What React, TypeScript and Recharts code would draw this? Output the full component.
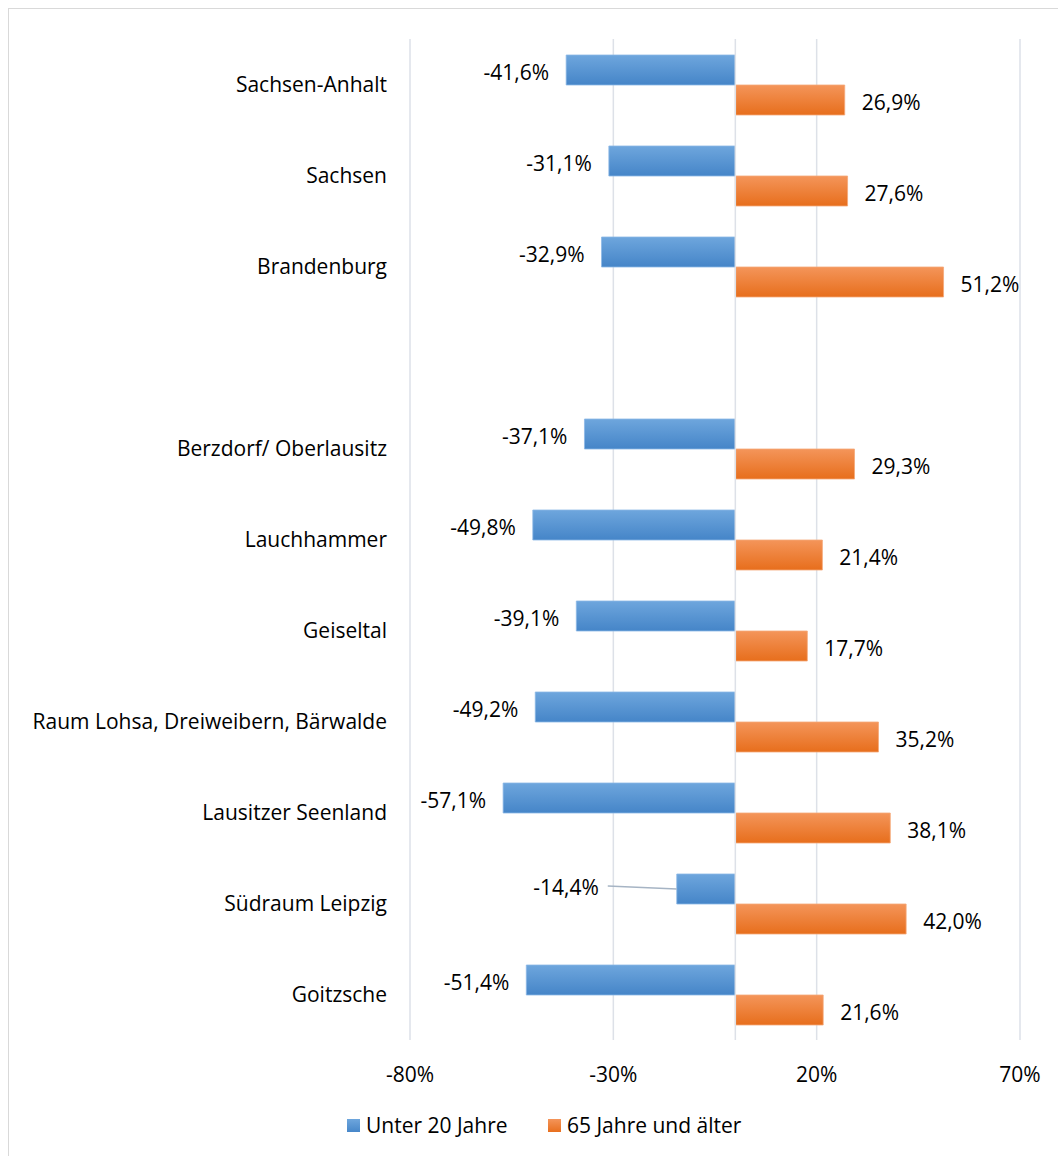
import React from "react";
import {
  BarChart,
  Bar,
  XAxis,
  YAxis,
  CartesianGrid,
  ReferenceLine,
  Legend,
} from "recharts";

const categories = [
  "Sachsen-Anhalt",
  "Sachsen",
  "Brandenburg",
  " ",
  "Berzdorf/ Oberlausitz",
  "Lauchhammer",
  "Geiseltal",
  "Raum Lohsa, Dreiweibern, Bärwalde",
  "Lausitzer Seenland",
  "Südraum Leipzig",
  "Goitzsche",
];

const under20: (number | null)[] = [-41.6, -31.1, -32.9, null, -37.1, -49.8, -39.1, -49.2, -57.1, -14.4, -51.4];
const over65: (number | null)[] = [26.9, 27.6, 51.2, null, 29.3, 21.4, 17.7, 35.2, 38.1, 42.0, 21.6];

const xTicks = [-80, -30, 20, 70];

const seriesNames = ["Unter 20 Jahre", "65 Jahre und älter"];

const data = categories.map((c, i) => ({
  name: c,
  under20: under20[i],
  over65: over65[i],
}));

const FONT = "'Open Sans', sans-serif";
const FS = 21;
const GRID = "#dde1e8";

const fmt = (v: number) => v.toFixed(1).replace(".", ",") + "%";

const makeLabel = (series: (number | null)[], moved: Record<string, number>) => (props: any) => {
  const { x, y, width, height, value } = props;
  if (value == null || x == null) return null;
  const left = Math.min(x, x + width);
  const right = Math.max(x, x + width);
  const cy = y + height / 2;
  const cat = categories[series.indexOf(value)];
  if (value < 0) {
    const shift = moved[cat] || 0;
    const tx = left - 17 - shift;
    return (
      <g>
        {shift ? (
          <line x1={tx + 9} y1={cy - 3} x2={left} y2={cy} stroke="#a6b4c4" strokeWidth={1.5} />
        ) : null}
        <text
          x={tx}
          y={shift ? cy - 2 : cy + 2}
          textAnchor="end"
          dominantBaseline="central"
          fontFamily={FONT}
          fontSize={FS}
          fill="#000"
        >
          {fmt(value)}
        </text>
      </g>
    );
  }
  return (
    <text
      x={right + 17}
      y={cy + 2}
      textAnchor="start"
      dominantBaseline="central"
      fontFamily={FONT}
      fontSize={FS}
      fill="#000"
    >
      {fmt(value)}
    </text>
  );
};

const blueLabel = makeLabel(under20, { "Südraum Leipzig": 61 });
const orangeLabel = makeLabel(over65, {});

const LegendContent = () => (
  <div
    style={{
      display: "flex",
      alignItems: "center",
      fontFamily: FONT,
      fontSize: FS,
      color: "#000",
      lineHeight: "24px",
    }}
  >
    <div style={{ display: "flex", alignItems: "center", width: 201 }}>
      <span style={{ display: "inline-block", width: 13, height: 13, background: "linear-gradient(#6ea6dd,#4787c9)", marginRight: 6 }} />
      <span>{seriesNames[0]}</span>
    </div>
    <div style={{ display: "flex", alignItems: "center" }}>
      <span style={{ display: "inline-block", width: 13, height: 13, background: "linear-gradient(#f4955a,#e86f1e)", marginRight: 6 }} />
      <span>{seriesNames[1]}</span>
    </div>
  </div>
);

export default function App() {
  return (
    <div style={{ position: "fixed", left: 0, top: 0, width: 1058, height: 1156, overflow: "hidden", background: "#fff" }}>
      <div
        style={{
          position: "absolute",
          left: 8,
          top: 8,
          width: 1100,
          height: 1200,
          border: "1px solid #d9d9d9",
          background: "#fff",
        }}
      >
        <BarChart
          width={1100}
          height={1160}
          data={data}
          layout="vertical"
          margin={{ top: 30, right: 89, bottom: 55, left: 0 }}
          barGap={0}
          barSize={30}
        >
          <defs>
            <linearGradient id="gBlue" x1="0" y1="0" x2="0" y2="1">
              <stop offset="0%" stopColor="#6ea6dd" />
              <stop offset="100%" stopColor="#4585c8" />
            </linearGradient>
            <linearGradient id="gOrange" x1="0" y1="0" x2="0" y2="1">
              <stop offset="0%" stopColor="#f4955a" />
              <stop offset="100%" stopColor="#e76e1c" />
            </linearGradient>
          </defs>
          <CartesianGrid horizontal={false} vertical={true} stroke={GRID} strokeWidth={1.5} />
          <XAxis
            type="number"
            domain={[-80, 70]}
            ticks={xTicks}
            tickFormatter={(v: number) => `${v}%`}
            axisLine={false}
            tickLine={false}
            tickSize={0}
            tickMargin={27}
            height={50}
            tick={{ fontFamily: FONT, fontSize: FS, fill: "#000" }}
          />
          <YAxis
            type="category"
            dataKey="name"
            width={401}
            axisLine={false}
            tickLine={false}
            tickSize={0}
            tickMargin={23}
            interval={0}
            tick={{ fontFamily: FONT, fontSize: FS, fill: "#000" }}
          />
          <ReferenceLine x={0} stroke={GRID} strokeWidth={1.5} />
          <Bar
            dataKey="under20"
            name={seriesNames[0]}
            fill="url(#gBlue)"
            stroke="#8bb8e6"
            strokeWidth={0.8}
            isAnimationActive={false}
            label={blueLabel}
          />
          <Bar
            dataKey="over65"
            name={seriesNames[1]}
            fill="url(#gOrange)"
            stroke="#f5a878"
            strokeWidth={0.8}
            isAnimationActive={false}
            label={orangeLabel}
          />
          <Legend
            content={<LegendContent />}
            wrapperStyle={{ position: "absolute", top: 1104, left: 338, width: 520, height: 24 }}
          />
        </BarChart>
      </div>
    </div>
  );
}
